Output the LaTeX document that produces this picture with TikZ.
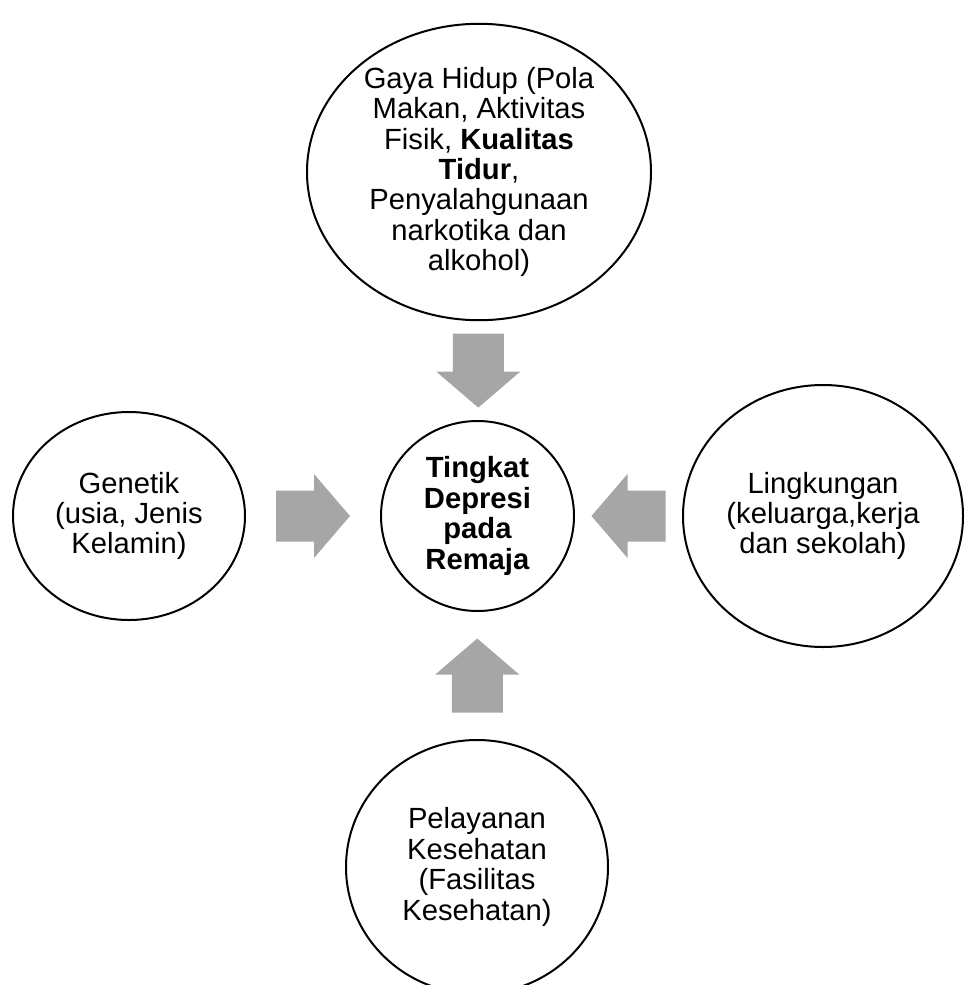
\documentclass[tikz,border=0pt]{standalone}
\usepackage{fontspec}
\setmainfont{Liberation Sans}
\usetikzlibrary{shapes.geometric,calc}

\definecolor{arrowgray}{RGB}{166,166,166}

\tikzset{
  factor/.style={ellipse, draw, line width=1pt, inner sep=0pt, align=center,
    font=\fontsize{14.6}{15.2}\selectfont},
  pics/blockarrow/.style={code={
    \fill[arrowgray] (-37,-25.5) -- (1,-25.5) -- (1,-42) -- (37,0)
      -- (1,42) -- (1,25.5) -- (-37,25.5) -- cycle;}}
}

\begin{document}
\begin{tikzpicture}[x=0.5pt, y=-0.5pt]
    \useasboundingbox (0,0) rectangle (964,985);

    % Pusat
    \node[factor, minimum width=96.5pt, minimum height=95pt] (tingkat) at (477.5,516)
        {\textbf{Tingkat}\\\textbf{Depresi}\\\textbf{pada}\\\textbf{Remaja}};

    % Faktor-faktor
    \node[factor, minimum width=172pt, minimum height=147.5pt] (gaya) at (479,172)
        {Gaya Hidup (Pola\\Makan, Aktivitas\\Fisik, \textbf{Kualitas}\\\textbf{Tidur},\\Penyalahgunaan\\narkotika dan\\alkohol)};
    \node[factor, minimum width=116pt, minimum height=104pt] (genetik) at (129,516)
        {Genetik\\(usia, Jenis\\Kelamin)};
    \node[factor, minimum width=140pt, minimum height=131pt] (lingkungan) at (823,516)
        {Lingkungan\\(keluarga,kerja\\dan sekolah)};
    \node[factor, minimum width=131pt, minimum height=127pt] (pelayanan) at (477,867)
        {Pelayanan\\Kesehatan\\(Fasilitas\\Kesehatan)};

    % Panah blok
    \pic[rotate=-90] at ($(gaya.south)!0.5!(tingkat.north)$) {blockarrow};
    \pic at ($(genetik.east)!0.5!(tingkat.west)$) {blockarrow};
    \pic[rotate=180] at ($(lingkungan.west)!0.5!(tingkat.east)$) {blockarrow};
    \pic[rotate=90] at ($(pelayanan.north)!0.5!(tingkat.south)$) {blockarrow};
\end{tikzpicture}
\end{document}
